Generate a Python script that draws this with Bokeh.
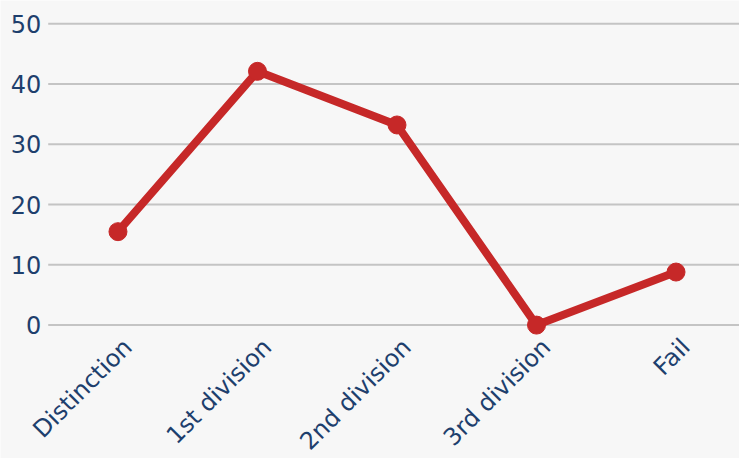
from bokeh.plotting import figure
from bokeh.models import Range1d, ColumnDataSource
from bokeh.core.properties import value
from bokeh.embed import file_html
from bokeh.resources import INLINE
import math

categories = ["Distinction", "1st division", "2nd division", "3rd division", "Fail"]
values = [15.5, 42.1, 33.2, 0.0, 8.8]
y_ticks = [0, 10, 20, 30, 40, 50]

BG = "#f7f7f7"
RED = "#c62828"
BLUE = "#1e3f6d"
GRID = "#c4c4c4"
FONT = "DejaVu Sans"

W, H = 739, 458
X0, X1 = -0.342, 4.955
Y0, Y1 = -22.13, 53.85

n = len(categories)
xs = [i + 0.5 for i in range(n)]
src = ColumnDataSource(dict(x=xs, y=values, cat=categories, zero=[0.0] * n))
grid_src = ColumnDataSource(dict(
    x0=[0.0] * len(y_ticks), x1=[float(n)] * len(y_ticks), y=y_ticks,
    lab=[str(t) for t in y_ticks]))

p = figure(width=W, height=H, output_backend="svg", toolbar_location=None,
           x_range=Range1d(X0, X1), y_range=Range1d(Y0, Y1),
           x_axis_location=None, y_axis_location=None,
           background_fill_color=BG, border_fill_color=BG,
           min_border_left=0, min_border_right=0, min_border_top=0, min_border_bottom=0)
p.outline_line_color = None
p.grid.visible = False

# horizontal gridlines across the plot area
p.segment(x0="x0", y0="y", x1="x1", y1="y", source=grid_src,
          line_color=GRID, line_width=2)

# y tick labels
p.text(x="x0", y="y", text="lab", source=grid_src, x_offset=-7,
       text_align="right", text_baseline="middle",
       text_color=BLUE, text_font=value(FONT), text_font_size=value("24px"))

# series
p.line("x", "y", source=src, line_color=RED, line_width=8)
p.scatter("x", "y", source=src, size=18, fill_color=RED, line_color=RED)

# rotated category labels
p.text(x="x", y="zero", text="cat", source=src, angle=math.pi / 4,
       x_offset=0, y_offset=8, text_align="right", text_baseline="top",
       text_color=BLUE, text_font=value(FONT), text_font_size=value("24px"))

open("out.html", "w").write(file_html(p, INLINE))
